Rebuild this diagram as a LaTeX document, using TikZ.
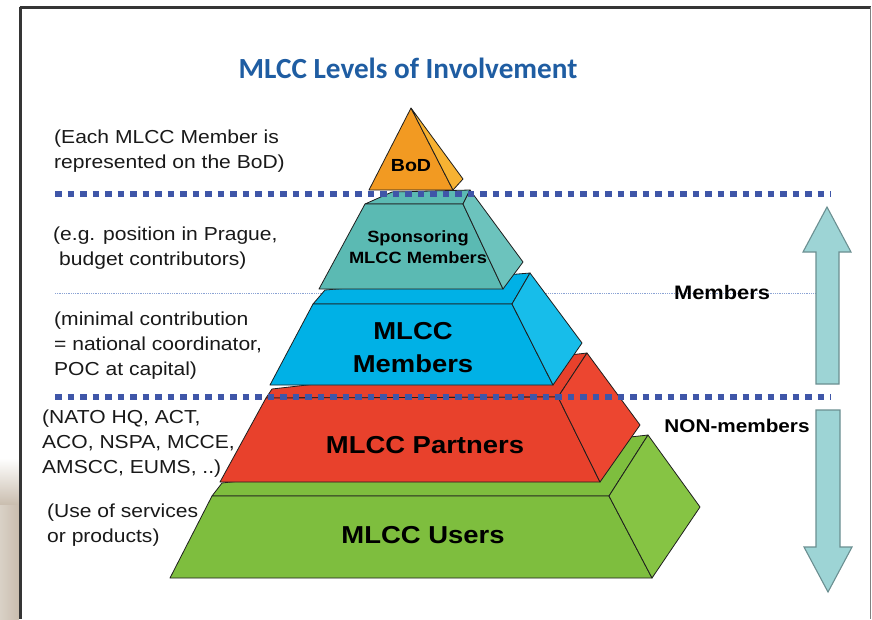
\documentclass[tikz,border=0pt]{standalone}
\usepackage{fontspec}
\setmainfont{Liberation Sans}[FakeStretch=1.12]
\newfontfamily\titlefont{Carlito}
\definecolor{edge}{HTML}{1E1E1E}
\definecolor{titleblue}{HTML}{1F5DA2}
\definecolor{dotblue}{HTML}{3F56A8}
\definecolor{thinblue}{HTML}{8BA3D4}
\definecolor{bodfront}{HTML}{F29A22}
\definecolor{bodside}{HTML}{F7B232}
\definecolor{tealfront}{HTML}{5BBAB3}
\definecolor{tealside}{HTML}{6CC3BD}
\definecolor{cyanfront}{HTML}{00B1E6}
\definecolor{cyanside}{HTML}{17BDEA}
\definecolor{redfront}{HTML}{E8412C}
\definecolor{redside}{HTML}{EC4630}
\definecolor{greenfront}{HTML}{7EBE3E}
\definecolor{greenside}{HTML}{86C444}
\definecolor{arrowfill}{HTML}{9DD4D5}
\definecolor{arrowedge}{HTML}{6B8F91}
\definecolor{beige}{HTML}{C9BDAE}
\tikzset{
  face/.style={draw=edge, line width=0.8pt, line join=round},
  % multi-line notes are anchored at the baseline of their last line
  note/.style={anchor=base west, align=left, inner sep=0pt,
    font=\fontsize{18.8}{25}\selectfont, text=black!90},
  layerlbl/.style={inner sep=0pt, align=center, text=black,
    font=\bfseries\fontsize{24.5}{33}\selectfont},
  sidelbl/.style={inner sep=0pt, text=black, font=\bfseries\fontsize{18.5}{22}\selectfont},
  bigdots/.style={line width=6pt, dash pattern=on 6.5pt off 6pt, color=dotblue},
  blockarrow/.style={fill=arrowfill, draw=arrowedge, line width=1.1pt, line join=miter}
}
\begin{document}
\begin{tikzpicture}[x=1pt,y=-1pt]
\useasboundingbox (0,0) rectangle (872,619);
\fill[white] (0,0) rectangle (872,619);

% backdrop strip outside the frame
\shade[top color=white, bottom color=beige] (0,458) rectangle (19,505);
\shade[left color=beige!70, right color=beige] (0,505) rectangle (19,619);

% frame
\draw[edge!90, line width=2.2pt] (20.5,6.5) -- (20.5,619);
\draw[edge!90, line width=2.5pt] (19.5,7.5) -- (871,7.5);
\draw[black!50, line width=1.5pt] (870.5,7) -- (870.5,619);

% title
\node[inner sep=0pt, anchor=base, text=titleblue,
      font=\titlefont\bfseries\fontsize{29.2}{34}\selectfont] (title) at (408,78) {MLCC Levels of Involvement};

% thin separator between the two member levels
\draw[thinblue, line width=1pt, dash pattern=on 1pt off 0.8pt] (55,293) -- (816,293);

% pyramid, bottom layer first
\filldraw[face, fill=greenfront] (212,496) -- (222,483) -- (648,435) -- (609,496) -- cycle;
\filldraw[face, fill=greenfront] (212,496) -- (609,496) -- (652,578) -- (170,578) -- cycle;
\filldraw[face, fill=greenside] (609,496) -- (648,435) -- (700,507) -- (652,578) -- cycle;

\filldraw[face, fill=redfront] (266,398) -- (272,389) -- (587,353) -- (558,397) -- cycle;
\filldraw[face, fill=redfront] (266,398) -- (558,397) -- (600,482) -- (220,482) -- cycle;
\filldraw[face, fill=redside] (558,397) -- (587,353) -- (640,425) -- (600,482) -- cycle;

\filldraw[face, fill=cyanfront] (313,304) -- (325,290) -- (530,273) -- (512,304) -- cycle;
\filldraw[face, fill=cyanfront] (313,304) -- (512,304) -- (553,385) -- (270,385) -- cycle;
\filldraw[face, fill=cyanside] (512,304) -- (530,273) -- (582,343) -- (553,385) -- cycle;

\filldraw[face, fill=tealfront] (365,204) -- (392,192) -- (470,190) -- (463,204) -- cycle;
\filldraw[face, fill=tealfront] (365,204) -- (463,204) -- (503,289) -- (319,289) -- cycle;
\filldraw[face, fill=tealside] (463,204) -- (470,190) -- (523,262) -- (503,289) -- cycle;

\filldraw[face, fill=bodfront] (411,108) -- (453,190) -- (369,190) -- cycle;
\filldraw[face, fill=bodside] (411,108) -- (463,179) -- (453,190) -- cycle;

% level boundaries
\draw[bigdots] (55,194) -- (831,194);
\draw[bigdots] (55,397) -- (831,397);

% layer labels
\node[inner sep=0pt, text=black, font=\bfseries\fontsize{17.5}{20}\selectfont] (bod) at (411,166) {BoD};
\node[inner sep=0pt, align=center, text=black, font=\bfseries\fontsize{16.3}{21}\selectfont] (sponsor) at (418,247) {Sponsoring\\MLCC Members};
\node[layerlbl] (members) at (413,348) {MLCC\\Members};
\node[layerlbl] (partners) at (425,445) {MLCC Partners};
\node[layerlbl] (users) at (423,535) {MLCC Users};

% explanatory notes on the left
\node[note] (n1) at (54,168) {(Each MLCC Member is\\represented on the BoD)};
\node[note] (n2) at (53,265) {(e.g. position in Prague,\\\hspace*{6pt}budget contributors)};
\node[note] (n3) at (54,375) {(minimal contribution\\= national coordinator,\\POC at capital)};
\node[note] (n4) at (42,473) {(NATO HQ, ACT,\\ACO, NSPA, MCCE,\\AMSCC, EUMS, ..)};
\node[note] (n5) at (47,542) {(Use of services\\or products)};

% membership arrows
\filldraw[blockarrow] (827,207) -- (851,252) -- (839,252) -- (839,384) -- (816,384) -- (816,252) -- (803,252) -- cycle;
\filldraw[blockarrow] (816,410) -- (840,410) -- (840,547) -- (852,547) -- (828,592) -- (804,547) -- (816,547) -- cycle;

\node[sidelbl, font=\bfseries\fontsize{19.5}{22}\selectfont] (memb) at (722,293) {Members};
\node[sidelbl] (nonmemb) at (737,426) {NON-members};
\end{tikzpicture}
\end{document}
